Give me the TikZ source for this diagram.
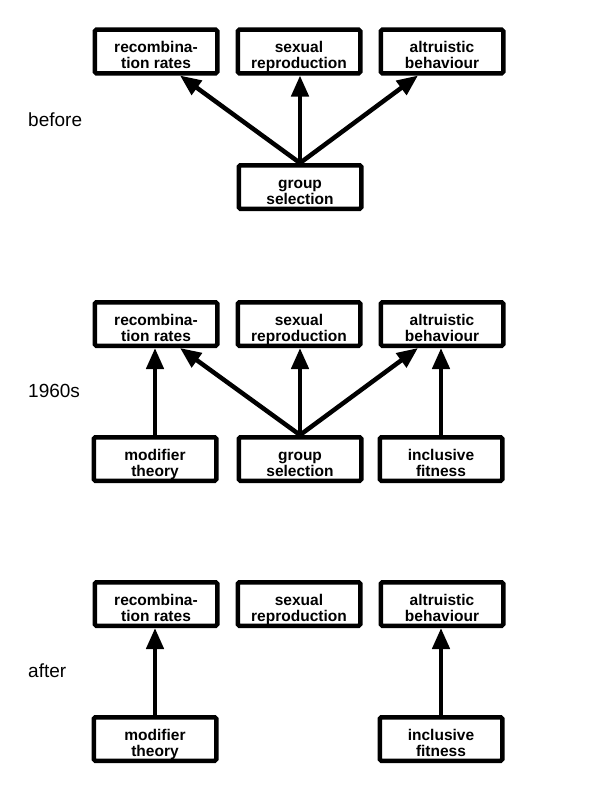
\documentclass[tikz,border=0pt]{standalone}
\usepackage{fontspec}
\setmainfont{Liberation Sans}
\usetikzlibrary{arrows.meta}
\newcommand\twoln[2]{\rule{0pt}{21.5pt}#1\\#2\rule[-3.5pt]{0pt}{3.5pt}}
\tikzset{
  box/.style={draw=black, line width=4.5pt, rounded corners=1.5pt, fill=white,
    minimum width=122.5pt, minimum height=43.5pt, inner sep=0pt, align=center,
    font=\bfseries\fontsize{15.5}{16}\selectfont},
  era/.style={anchor=west, inner sep=0pt, font=\fontsize{19}{21}\selectfont},
  link/.style={line width=4.5pt, -{Triangle[length=21pt,width=17pt]}},
}
\begin{document}
\begin{tikzpicture}[x=1pt,y=-1pt]
\useasboundingbox[fill=white] (0,0) rectangle (598,800);
% section 1
\node[era] (l1) at (28,120) {before};
\node[box] (r1) at (156,51.5) {\twoln{recombina-}{tion rates}};
\node[box] (s1) at (299,51.5) {\twoln{sexual}{reproduction}};
\node[box] (a1) at (442,51.5) {\twoln{altruistic}{behaviour}};
\node[box] (g1) at (300,187) {\twoln{group}{selection}};
\draw[link] (g1.north) -- (r1.-45);
\draw[link] (g1.north) -- (s1.south -| g1.north);
\draw[link] (g1.north) -- (a1.-135);
% section 2
\node[era] (l2) at (28,391) {1960s};
\node[box] (r2) at (156,324) {\twoln{recombina-}{tion rates}};
\node[box] (s2) at (299,324) {\twoln{sexual}{reproduction}};
\node[box] (a2) at (442,324) {\twoln{altruistic}{behaviour}};
\node[box] (m2) at (155,459) {\twoln{modifier}{theory}};
\node[box] (g2) at (300,459) {\twoln{group}{selection}};
\node[box] (i2) at (441,459) {\twoln{inclusive}{fitness}};
\draw[link] (m2.north) -- (m2.north |- r2.south);
\draw[link] (g2.north) -- (r2.-45);
\draw[link] (g2.north) -- (s2.south -| g2.north);
\draw[link] (g2.north) -- (a2.-135);
\draw[link] (i2.north) -- (i2.north |- a2.south);
% section 3
\node[era] (l3) at (28,671) {after};
\node[box] (r3) at (156,604) {\twoln{recombina-}{tion rates}};
\node[box] (s3) at (299,604) {\twoln{sexual}{reproduction}};
\node[box] (a3) at (442,604) {\twoln{altruistic}{behaviour}};
\node[box] (m3) at (155,739) {\twoln{modifier}{theory}};
\node[box] (i3) at (441,739) {\twoln{inclusive}{fitness}};
\draw[link] (m3.north) -- (m3.north |- r3.south);
\draw[link] (i3.north) -- (i3.north |- a3.south);
\end{tikzpicture}
\end{document}
